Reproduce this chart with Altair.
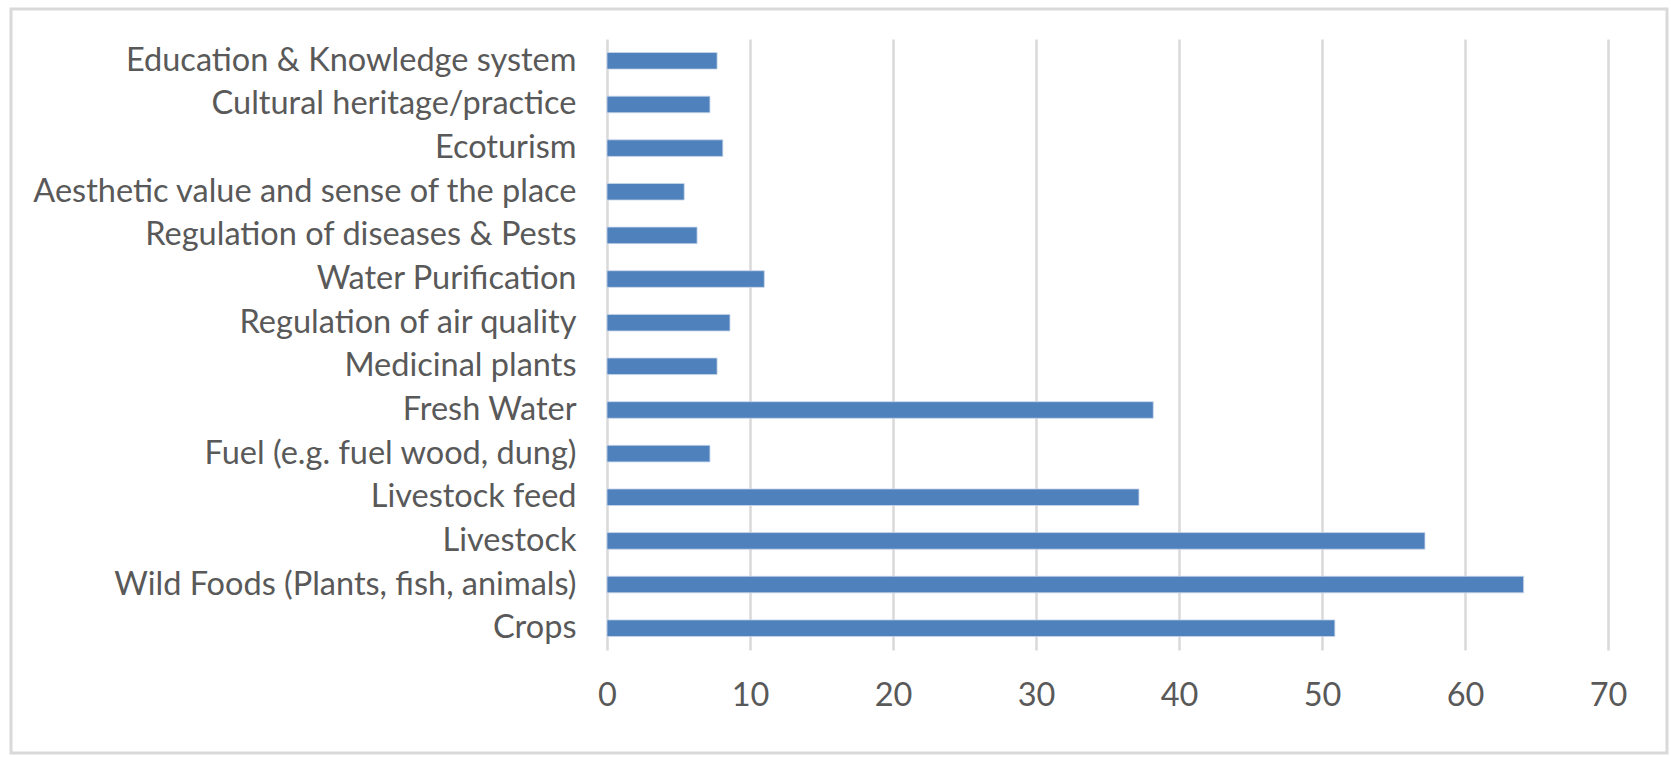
import altair as alt
import pandas as pd

categories = [
    "Education & Knowledge system",
    "Cultural heritage/practice",
    "Ecoturism",
    "Aesthetic value and sense of the place",
    "Regulation of diseases & Pests",
    "Water Purification",
    "Regulation of air quality",
    "Medicinal plants",
    "Fresh Water",
    "Fuel (e.g. fuel wood, dung)",
    "Livestock feed",
    "Livestock",
    "Wild Foods (Plants, fish, animals)",
    "Crops",
]
values = [7.7, 7.2, 8.1, 5.4, 6.3, 11.0, 8.6, 7.7, 38.2, 7.2, 37.2, 57.2, 64.1, 50.9]
x_ticks = [0, 10, 20, 30, 40, 50, 60, 70]

df = pd.DataFrame({"category": categories, "value": values})

FONT = "Lato"
FONT_SIZE = 32.5
LABEL_COLOR = "#595959"
GRID_COLOR = "#d9d9d9"

PLOT_LEFT, PLOT_TOP = 607, 39
PLOT_W, PLOT_H = 1001, 611

bars = alt.Chart(df).mark_bar(color="#4f81bd", stroke="#c9d7ea", strokeWidth=0.8).encode(
    x=alt.X(
        "value:Q",
        scale=alt.Scale(domain=[0, 70], nice=False),
        axis=alt.Axis(
            values=x_ticks,
            title=None,
            grid=True,
            gridColor=GRID_COLOR,
            gridWidth=2.5,
            domain=False,
            ticks=False,
            labelFlush=False,
            labelFont=FONT,
            labelFontSize=FONT_SIZE,
            labelColor=LABEL_COLOR,
            labelBaseline="middle",
            labelPadding=45,
        ),
    ),
    y=alt.Y(
        "category:N",
        sort=categories,
        scale=alt.Scale(paddingInner=0.62, paddingOuter=0.31),
        axis=alt.Axis(
            title=None,
            domain=False,
            ticks=False,
            grid=False,
            labelFont=FONT,
            labelFontSize=FONT_SIZE,
            labelColor=LABEL_COLOR,
            labelPadding=31,
            labelLimit=700,
        ),
    ),
)

border = alt.Chart(alt.Data(values=[{"a": 1}])).mark_rect(
    fill=None, stroke=GRID_COLOR, strokeWidth=3
).encode(
    x=alt.value(11 - PLOT_LEFT),
    x2=alt.value(1667 - PLOT_LEFT),
    y=alt.value(9 - PLOT_TOP),
    y2=alt.value(753 - PLOT_TOP),
)

chart = alt.layer(border, bars).properties(
    width=PLOT_W,
    height=PLOT_H,
    autosize=alt.AutoSizeParams(type="none"),
    padding={"left": PLOT_LEFT, "top": PLOT_TOP, "right": 1671 - PLOT_LEFT - PLOT_W, "bottom": 757 - PLOT_TOP - PLOT_H},
    background="white",
).configure_view(stroke=None)

chart.save("out.html", embed_options={"renderer": "svg", "actions": False})
